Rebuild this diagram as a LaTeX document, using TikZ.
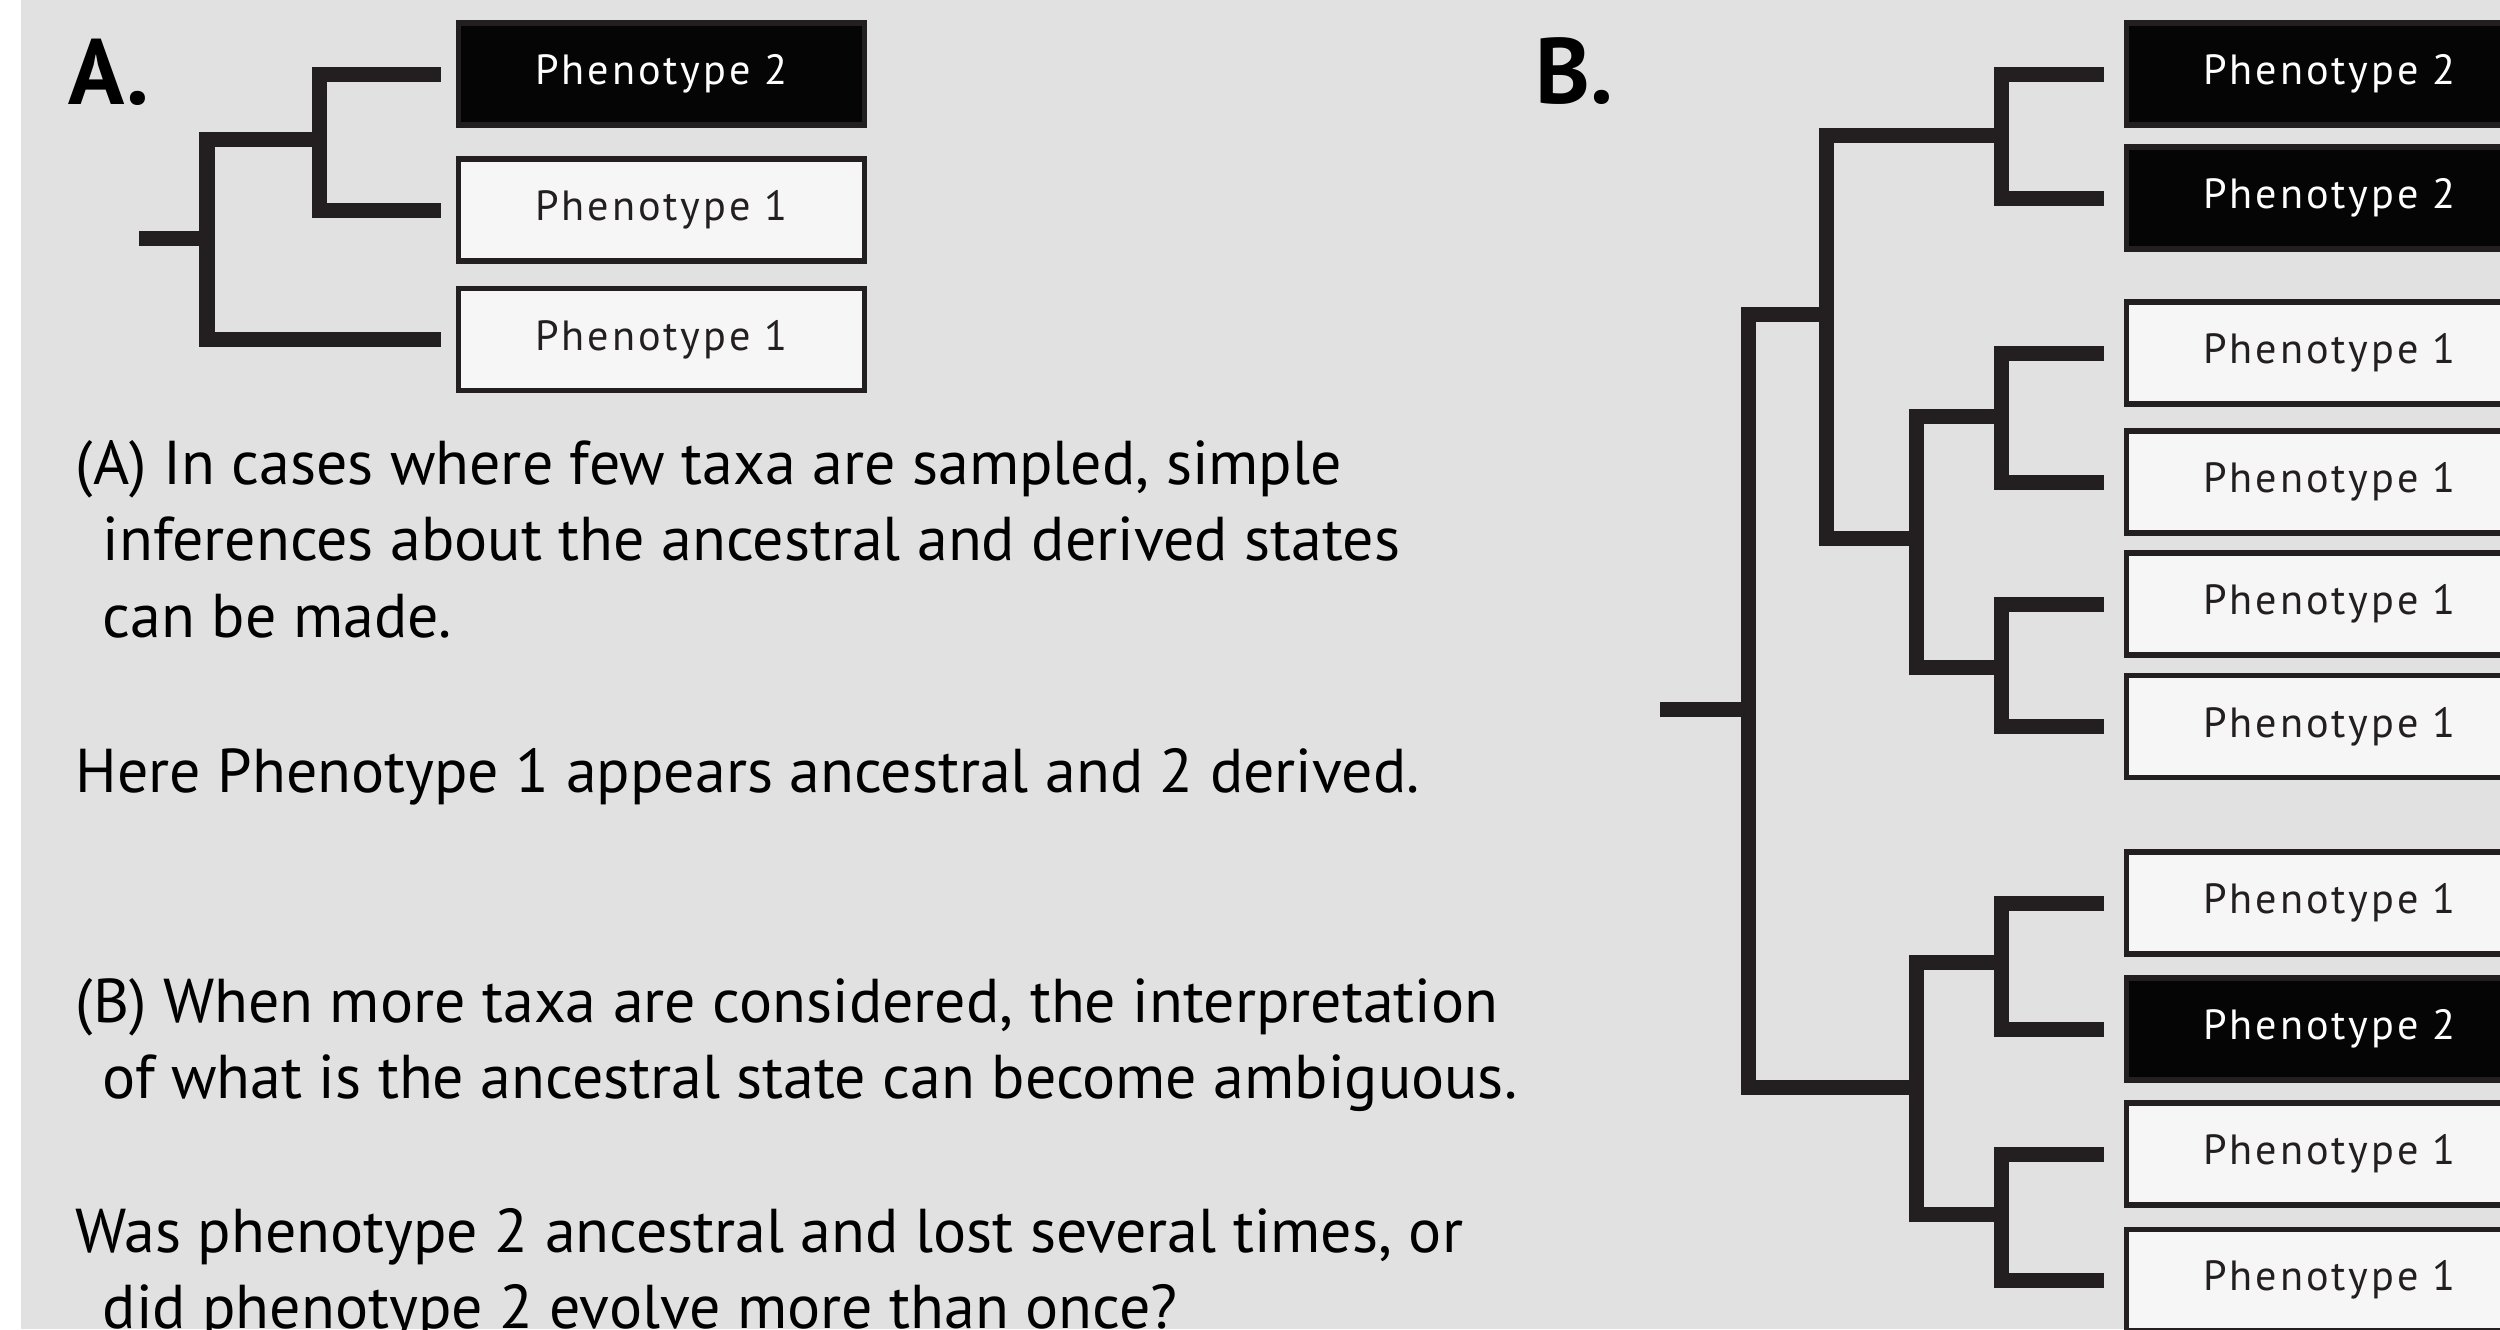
\documentclass[tikz,border=0pt]{standalone}
\usepackage{fontspec}
\setmainfont{PT Sans}
\newfontfamily\boxfont{PT Sans}[LetterSpace=7]
\definecolor{bg}{RGB}{225,225,225}
\definecolor{ink}{RGB}{35,31,32}
\definecolor{pale}{RGB}{246,246,246}
\definecolor{dark}{RGB}{5,5,5}

\begin{document}
\begin{tikzpicture}[x=0.01cm,y=-0.01cm]
    \tikzstyle{branch}=[draw=ink,line width=0.15cm]
    \tikzstyle{phbox}=[rectangle,draw=ink,line width=0.055cm,minimum width=4.055cm,minimum height=1.015cm,inner sep=0pt,font=\boxfont\fontsize{12pt}{14pt}\selectfont]
    \tikzstyle{ph1box}=[phbox,fill=pale,text=ink]
    \tikzstyle{ph2box}=[phbox,fill=dark,text=white]
    \tikzstyle{txt}=[anchor=base west,inner sep=0pt,font=\fontsize{17.6pt}{21pt}\selectfont]
    \tikzstyle{panel}=[anchor=base west,inner sep=0pt,font=\bfseries\fontsize{26.4pt}{30pt}\selectfont]
    \useasboundingbox (0,0) rectangle (2500,1329);
    \clip (0,0) rectangle (2500,1329);
    \fill[white] (0,0) rectangle (2500,1329);
    \fill[bg] (21,0) rectangle (2500,1329);

    % panel A
    \node[panel] (labA) at (68,104) {A.};
    \node[ph2box] (a1) at (661.5,74) {Phenotype 2};
    \node[ph1box] (a2) at (661.5,210) {Phenotype 1};
    \node[ph1box] (a3) at (661.5,339.5) {Phenotype 1};
    \coordinate (a0) at (139,238);
    \coordinate (aroot) at (207,238);
    \coordinate (a12) at (319,139);
    \draw[branch] (a0) -- (aroot);
    \draw[branch] (aroot) |- (a12);
    \draw[branch,shorten >=0.15cm] (aroot) |- (a3.west);
    \draw[branch,shorten >=0.15cm] (a12) |- (a1.west);
    \draw[branch,shorten >=0.15cm] (a12) |- (a2.west);

    \node[txt] (t1) at (75,484) {(A) In cases where few taxa are sampled, simple};
    \node[txt] (t2) at (102,560) {inferences about the ancestral and derived states};
    \node[txt] (t3) at (102,637) {can be made.};
    \node[txt] (t4) at (75,792) {Here Phenotype 1 appears ancestral and 2 derived.};
    \node[txt] (t5) at (75,1022) {(B) When more taxa are considered, the interpretation};
    \node[txt] (t6) at (102,1098) {of what is the ancestral state can become ambiguous.};
    \node[txt] (t7) at (75,1252) {Was phenotype 2 ancestral and lost several times, or};
    \node[txt] (t8) at (102,1328) {did phenotype 2 evolve more than once?};

    % panel B
    \node[panel] (labB) at (1535,103) {B.};
    \node[ph2box] (b1) at (2329.5,74) {Phenotype 2};
    \node[ph2box] (b2) at (2329.5,198) {Phenotype 2};
    \node[ph1box] (b3) at (2329.5,353) {Phenotype 1};
    \node[ph1box] (b4) at (2329.5,482) {Phenotype 1};
    \node[ph1box] (b5) at (2329.5,604) {Phenotype 1};
    \node[ph1box] (b6) at (2329.5,726.5) {Phenotype 1};
    \node[ph1box] (b7) at (2329.5,903) {Phenotype 1};
    \node[ph2box] (b8) at (2329.5,1029) {Phenotype 2};
    \node[ph1box] (b9) at (2329.5,1154) {Phenotype 1};
    \node[ph1box] (b10) at (2329.5,1280) {Phenotype 1};
    \coordinate (b0) at (1660,709);
    \coordinate (broot) at (1748,709);
    \coordinate (bup) at (1826,314);
    \coordinate (b12) at (2001,135);
    \coordinate (b3456) at (1916,538);
    \coordinate (b34) at (2001,416);
    \coordinate (b56) at (2001,667);
    \coordinate (blow) at (1916,1087);
    \coordinate (b78) at (2001,962);
    \coordinate (b910) at (2001,1214);
    \draw[branch] (b0) -- (broot);
    \draw[branch] (broot) |- (bup);
    \draw[branch] (broot) |- (blow);
    \draw[branch] (bup) |- (b12);
    \draw[branch] (bup) |- (b3456);
    \draw[branch] (b3456) |- (b34);
    \draw[branch] (b3456) |- (b56);
    \draw[branch] (blow) |- (b78);
    \draw[branch] (blow) |- (b910);
    \draw[branch,shorten >=0.2cm] (b12) |- (b1.west);
    \draw[branch,shorten >=0.2cm] (b12) |- (b2.west);
    \draw[branch,shorten >=0.2cm] (b34) |- (b3.west);
    \draw[branch,shorten >=0.2cm] (b34) |- (b4.west);
    \draw[branch,shorten >=0.2cm] (b56) |- (b5.west);
    \draw[branch,shorten >=0.2cm] (b56) |- (b6.west);
    \draw[branch,shorten >=0.2cm] (b78) |- (b7.west);
    \draw[branch,shorten >=0.2cm] (b78) |- (b8.west);
    \draw[branch,shorten >=0.2cm] (b910) |- (b9.west);
    \draw[branch,shorten >=0.2cm] (b910) |- (b10.west);
\end{tikzpicture}
\end{document}
